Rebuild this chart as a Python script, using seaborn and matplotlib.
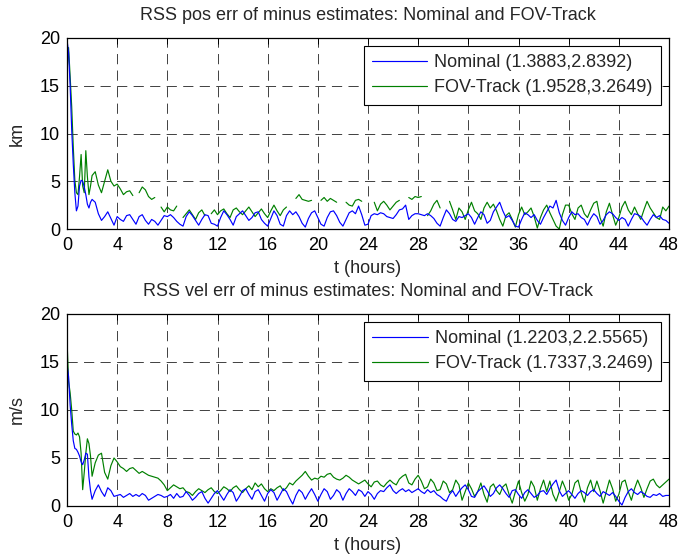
import numpy as np
import pandas as pd
import matplotlib
matplotlib.use("Agg")
import matplotlib.pyplot as plt
from matplotlib.lines import Line2D
import seaborn as sns

nan = np.nan

# sample times (hours): finer at the start
t_hours = np.concatenate([np.arange(0, 2, 0.125), np.arange(2, 48.001, 0.25)])

pos_nominal = [
    19.8, 18.5, 15.0, 10.4, 6.8, 3.8, 1.9, 2.4, 4.5, 5.1, 5.0, 4.4, 3.6, 2.6, 2.2, 2.8,
    3.1, 2.8, 1.6, 0.9, 1.3, 1.8, 1.1, 0.4,
    1.3, 1.0, 0.8, 1.4, 1.5, 1.0, 0.5, 1.3,
    1.5, 0.9, 0.5, 1.0, 0.8, 0.4, 0.9, 1.4,
    1.3, 1.5, 1.2, 0.8, 0.5, 0.3, 1.3, 1.8,
    1.4, 0.9, 0.4, 1.0, 1.5, 1.4, 0.6, 0.5,
    0.3, 1.2, 1.9, 1.5, 1.0, 0.4, 1.3, 1.6,
    1.9, 1.4, 0.9, 1.2, 1.7, 1.8, 1.0, 0.6,
    0.3, 1.1, 1.9, 1.4, 0.5, 0.3, 1.4, 1.9,
    1.5, 1.8, 1.3, 0.6, 0.2, 1.1, 1.7, 1.9,
    1.2, 0.5, 0.3, 1.2, 1.8, 1.9, 1.4, 0.7,
    0.3, 1.0, 1.7, 1.9, 1.6, 2.4, 1.5, 0.4,
    0.5, 1.4, 1.6, 1.5, 1.7, 1.6, 1.3, 1.2,
    1.1, 1.5, 2.0, 2.1, 2.5, 1.0, 1.4, 1.6,
    1.6, 1.5, 1.4, 1.6, 1.4, 1.1, 0.6, 0.3,
    1.2, 2.0, 1.6, 1.0, 0.8, 1.3, 1.2, 1.4,
    1.6, 1.2, 0.5, 1.2, 1.8, 1.5, 0.6, 0.9,
    1.8, 2.3, 2.8, 1.9, 1.2, 1.4, 0.9, 0.3,
    0.2, 1.0, 1.7, 1.5, 1.2, 1.5, 0.9, 0.5,
    1.2, 1.8, 2.4, 2.2, 3.0, 1.7, 0.9, 0.4,
    1.2, 1.8, 1.5, 1.6, 1.2, 1.0, 0.4, 1.1,
    1.6, 1.3, 0.5, 0.9, 1.5, 1.8, 1.6, 1.2,
    0.9, 1.2, 1.0, 0.3, 1.0, 1.6, 1.5, 1.3,
    0.8, 0.4, 1.0, 1.5, 1.2, 1.4, 1.0, 0.9,
    0.6,
]

pos_fov = [
    16.5, 19.0, 16.0, 12.8, 8.6, 5.1, 3.8, 3.6, 5.5, 7.8, 4.5, 3.8, 8.2, 5.5, 3.6, 4.5,
    5.6, 6.0, 4.6, 3.8, 5.0, 6.2, 5.0, 4.5,
    4.7, 4.2, 3.6, 3.9, 4.0, 3.5, nan, 3.8,
    4.4, 4.1, 3.4, 3.1, 3.3, nan, 2.3, 1.8,
    2.3, 2.0, 1.9, 2.4, nan, 1.2, 1.6, 2.0,
    1.5, 1.0, 1.7, 2.0, 1.4, nan, 1.6, 2.0,
    1.5, 1.9, 2.1, 1.6, 1.2, 2.0, 2.2, 1.8,
    1.5, 1.9, 2.3, 1.8, 1.3, 1.7, 2.1, 1.6,
    1.2, 1.9, 2.5, 1.9, 1.4, 2.0, 2.3, nan,
    nan, 3.2, 3.6, 3.1, 3.0, 2.9, 3.0, nan,
    nan, 3.0, 3.3, 2.9, 3.2, 3.0, 2.8, nan,
    nan, 2.8, 2.5, 2.4, 3.0, 3.1, 2.9, nan,
    nan, nan, 2.8, 1.9, 2.6, 2.9, 2.5, 2.0,
    2.4, 2.8, 3.0, nan, nan, 3.3, 3.1, 3.4,
    3.3, 3.4, nan, 1.4, 1.9, 2.6, 3.0, 2.2,
    nan, nan, 2.9, 2.0, 1.0, 2.2, 1.8, 1.0,
    2.0, 2.8, 1.9, 1.6, 1.0, 2.2, 2.8, 2.2,
    2.6, 1.9, 1.0, 0.3, 1.4, 1.7, 1.0, 0.2,
    1.5, 2.3, 1.5, 1.8, 2.2, 1.3, 0.1, 1.2,
    2.0, 2.5, 1.7, 1.0, 0.3, 0.0, 1.5, 2.5,
    2.5, 1.6, 1.0, 2.2, 2.5, 1.6, 1.2, 2.0,
    2.7, 2.9, 1.2, 0.3, 1.8, 2.7, 1.5, 0.4,
    1.2, 2.3, 2.9, 2.0, 1.5, 2.3, 1.6, 1.0,
    2.0, 2.9, 2.2, 1.7, 1.2, 1.0, 2.3, 1.9,
    2.4,
]

vel_nominal = [
    14.8, 13.5, 10.5, 8.5, 6.8, 6.0, 5.9, 5.6, 5.2, 4.6, 4.3, 4.8, 5.5, 5.4, 3.0, 1.6,
    0.7, 1.6, 2.2, 1.5, 1.0, 1.9, 1.6, 1.0,
    1.1, 1.2, 0.9, 1.1, 1.3, 1.0, 1.2, 1.0,
    1.3, 1.1, 0.6, 0.8, 1.0, 1.2, 1.1, 0.9,
    1.0, 1.2, 0.8, 1.3, 0.9, 1.0, 1.5, 1.1,
    0.6, 0.9, 1.3, 1.5, 0.8, 0.3, 0.8, 1.3,
    1.6, 1.1, 0.6, 1.2, 1.7, 1.4, 0.5, 1.0,
    1.6, 1.8, 1.2, 0.7, 1.5, 1.7, 1.1, 0.5,
    1.3, 1.7, 1.4, 0.6, 1.2, 1.8, 1.5, 0.8,
    0.2, 1.1, 1.7, 1.4, 0.7, 1.3, 1.8, 1.2,
    0.5, 1.2, 1.8, 1.5, 0.7, 1.1, 1.7, 1.4,
    0.6, 1.3, 1.8, 1.5, 1.1, 1.7, 1.5, 1.0,
    1.5, 1.2, 0.7, 1.3, 1.6, 1.5, 1.9, 2.2,
    1.6, 1.3, 1.6, 1.8, 1.5, 1.7, 1.4, 1.6,
    1.8, 1.5, 1.3, 1.7, 1.4, 1.6, 1.2, 1.0,
    0.7, 0.5, 1.2, 1.6, 1.0, 1.5, 1.9, 2.2,
    1.7, 1.0, 0.9, 1.5, 1.8, 2.1, 1.6, 1.0,
    1.3, 1.9, 2.2, 1.8, 1.3, 0.9, 1.6, 1.7,
    1.2, 0.8, 1.4, 1.7, 1.3, 0.9, 1.1, 1.5,
    1.6, 1.2, 1.8, 2.3, 2.7, 1.6, 1.0, 1.3,
    1.6, 1.2, 0.8, 1.3, 1.6, 1.4, 1.1, 1.5,
    1.7, 1.3, 1.0, 1.5, 1.3, 1.1, 1.4, 1.0,
    0.5, 0.1, 0.9, 1.5, 1.8, 1.4, 1.2, 1.5,
    1.3, 1.0, 0.9, 1.2, 1.1, 1.3, 1.0, 1.1,
    1.1,
]

vel_fov = [
    17.3, 13.0, 11.8, 10.0, 7.8, 7.5, 7.4, 7.6, 7.2, 5.5, 1.7, 3.5, 5.5, 7.0, 6.5, 5.2,
    3.1, 4.5, 5.3, 5.5, 3.5, 2.8, 4.2, 5.0,
    4.6, 4.1, 3.9, 3.6, 3.9, 4.0, 3.7, 3.4,
    3.6, 3.4, 3.2, 3.1, 3.0, 2.9, 2.6, 2.2,
    1.6, 1.9, 2.2, 2.0, 1.8, 1.9, 1.5, 1.4,
    1.1, 1.5, 1.8, 1.6, 1.4, 1.7, 1.9, 1.5,
    1.3, 1.6, 2.0, 1.8, 1.5, 1.9, 2.1, 1.7,
    1.4, 1.8, 2.1, 1.7, 2.4, 2.0, 2.3, 1.8,
    1.5, 1.8, 1.6, 1.9, 2.1, 1.6, 1.9, 2.4,
    2.2, 2.6, 2.9, 3.2, 3.6, 3.1, 2.7, 2.9,
    2.8, 3.1, 3.0, 3.3, 3.4, 3.0, 2.8, 2.7,
    2.9, 3.2, 3.0, 2.7, 2.5, 2.3, 2.5, 2.7,
    2.3, 2.0, 2.5, 2.6, 2.2, 2.0, 2.4, 2.7,
    2.4, 2.2, 2.8, 3.1, 3.3, 2.4, 2.2, 2.8,
    3.2, 2.6, 1.8, 2.0, 2.8, 2.4, 1.6, 1.7,
    2.6, 2.3, 1.4, 1.7, 2.7, 2.2, 0.6, 1.5,
    2.4, 1.8, 1.0, 1.5, 2.4, 1.2, 0.4, 2.0,
    2.3, 1.6, 1.2, 2.0, 2.3, 1.2, 0.3, 1.5,
    2.6, 1.4, 0.5, 1.2, 2.6, 2.0, 0.6, 1.8,
    2.7, 1.5, 2.6, 1.2, 0.5, 1.5, 2.6, 1.8,
    0.6, 1.2, 2.4, 2.7, 1.4, 0.4, 1.9, 2.7,
    1.5, 2.6, 1.6, 0.3, 1.5, 2.7, 1.8, 0.5,
    1.2, 2.5, 2.7, 1.5, 0.6, 1.8, 2.7, 1.9,
    0.9, 1.8, 2.6, 2.8, 2.2, 1.9, 2.2, 2.5,
    2.8,
]

titles = ["RSS pos err of minus estimates: Nominal and FOV-Track",
          "RSS vel err of minus estimates: Nominal and FOV-Track"]
ylabels = ["km", "m/s"]
xlabel = "t (hours)"
legend_top = ["Nominal (1.3883,2.8392)", "FOV-Track (1.9528,3.2649)"]
legend_bottom = ["Nominal (1.2203,2.2.5565)", "FOV-Track (1.7337,3.2469)"]
x_ticks = list(range(0, 49, 4))
y_ticks = [0, 5, 10, 15, 20]

sns.set_style("white")
plt.rcParams["font.family"] = ["Liberation Sans", "DejaVu Sans"]
FS = 13
plt.rcParams["font.size"] = FS

BLUE = (0, 0, 1)
GREEN = (0, 0.5, 0)

fig = plt.figure(figsize=(6.79, 5.56), dpi=100)
ax_top = fig.add_axes([67/679, 1 - 229/556, (669-67)/679, (229-38)/556])
ax_bot = fig.add_axes([67/679, 1 - 506/556, (669-67)/679, (506-314)/556])


def draw_series(ax, values, color):
    y = np.asarray(values, dtype=float)
    seg = np.cumsum(np.isnan(y))
    df = pd.DataFrame({"t": t_hours, "v": y, "seg": seg}).dropna()
    sns.lineplot(data=df, x="t", y="v", units="seg", estimator=None,
                 color=color, linewidth=0.85, ax=ax, legend=False, sort=False)


panels = [
    (ax_top, pos_nominal, pos_fov, titles[0], ylabels[0], legend_top),
    (ax_bot, vel_nominal, vel_fov, titles[1], ylabels[1], legend_bottom),
]

for ax, nom, fov, title, ylab, leg in panels:
    assert len(nom) == len(t_hours) and len(fov) == len(t_hours)
    draw_series(ax, fov, GREEN)
    draw_series(ax, nom, BLUE)
    ax.set_xlim(0, 48)
    ax.set_ylim(0, 20)
    ax.set_xticks(x_ticks)
    ax.set_yticks(y_ticks)
    ax.grid(True, color="0.25", linestyle=(0, (10.5, 6.5)), linewidth=0.7)
    ax.tick_params(direction="in", top=True, right=True, length=4, width=0.7,
                   labelsize=FS, colors="black")
    ax.tick_params(axis="x", pad=6)
    ax.tick_params(axis="y", pad=5)
    for sp in ax.spines.values():
        sp.set_visible(True)
        sp.set_color("black")
        sp.set_linewidth(0.9)
    ax.set_title(title, fontsize=FS, pad=13)
    ax.set_xlabel(xlabel, fontsize=FS, labelpad=4)
    ax.set_ylabel(ylab, fontsize=FS, labelpad=10)
    handles = [Line2D([], [], color=BLUE, lw=0.85), Line2D([], [], color=GREEN, lw=0.85)]
    lg = ax.legend(handles, leg, loc="upper right", fontsize=FS, frameon=True,
                   fancybox=False, framealpha=1, edgecolor="black",
                   handlelength=3.05, handletextpad=0.4, borderpad=0.45,
                   labelspacing=0.45, borderaxespad=0.45)
    lg.get_frame().set_linewidth(0.8)

fig.savefig("out.png", dpi=100)
